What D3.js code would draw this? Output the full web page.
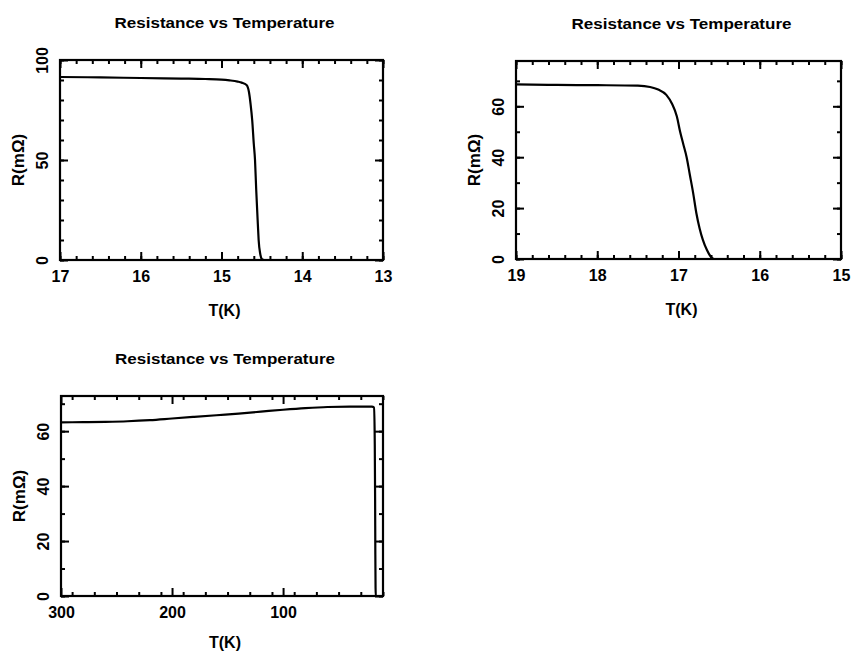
<!DOCTYPE html>
<html lang="en">
<head>
<meta charset="utf-8">
<script src="https://d3js.org/d3.v7.min.js"></script>
<style>
  body { margin: 0; background: #fff; }
  text { font-family: "Liberation Sans", Arial, sans-serif; font-weight: bold; fill: #000; }
</style>
</head>
<body>
<div id="my_dataviz"></div>
<script>
// data
var title = "Resistance vs Temperature";
var xLabel = "T(K)";
var yLabel = "R(mΩ)";

// panel 1: 17 K -> 13 K
var t1 = [17, 16.5, 16, 15.5, 15.2, 15, 14.9, 14.8, 14.75, 14.69, 14.66, 14.64, 14.62, 14.6, 14.585, 14.57, 14.55, 14.54, 14.52, 14.5, 14.47];
var r1 = [91.5, 91.3, 91, 90.7, 90.5, 90.2, 89.8, 89.2, 88.7, 87.5, 84, 78, 70, 58, 50, 35, 18, 10, 3, 0.5, 0];
var xTicks1 = [17, 16, 15, 14, 13];
var yTicks1 = [0, 50, 100];

// panel 2: 19 K -> 15 K
var t2 = [19, 18.5, 18, 17.5, 17.35, 17.25, 17.15, 17.08, 17.02, 16.98, 16.94, 16.9, 16.86, 16.82, 16.78, 16.74, 16.7, 16.65, 16.6, 16.56, 15];
var r2 = [68.6, 68.4, 68.3, 68.1, 67.6, 66.6, 64.5, 61, 56, 50, 45, 40, 33, 26, 18, 12, 7.5, 3.5, 0.8, 0, 0];
var xTicks2 = [19, 18, 17, 16, 15];
var yTicks2 = [0, 20, 40, 60];

// panel 3: 300 K -> 10 K
var t3 = [300, 280, 260, 240, 220, 200, 180, 160, 140, 120, 100, 80, 60, 40, 20, 18, 17.4, 17.1, 16.9, 16.7, 16.5, 12];
var r3 = [63.2, 63.3, 63.4, 63.6, 64, 64.6, 65.2, 65.8, 66.4, 67.1, 67.8, 68.4, 68.8, 68.9, 68.9, 68.6, 55, 35, 15, 3, 0, 0];
var xTicks3 = [300, 200, 100];
var yTicks3 = [0, 20, 40, 60];

var svg = d3.select("#my_dataviz")
  .append("svg")
  .attr("width", 854)
  .attr("height", 655)

function drawPanel(p) {
  var g = svg.append("g")
  var w = p.right - p.left, h = p.bottom - p.top

  var x = d3.scaleLinear().domain(p.xDomain).range([p.left, p.right])
  var y = d3.scaleLinear().domain(p.yDomain).range([p.bottom, p.top])

  // minor ticks on all four sides, pointing inward
  var minorX = d3.range(p.xDomain[1], p.xDomain[0] + 1e-9, p.xMinor)
  var minorY = d3.range(0, p.yDomain[1] + 1e-9, p.yMinor)

  g.append("g").attr("transform", "translate(0," + p.bottom + ")")
    .call(d3.axisBottom(x).tickValues(minorX).tickSize(-4).tickFormat(""))
  g.append("g").attr("transform", "translate(0," + p.top + ")")
    .call(d3.axisTop(x).tickValues(minorX).tickSize(-4).tickFormat(""))
  g.append("g").attr("transform", "translate(" + p.left + ",0)")
    .call(d3.axisLeft(y).tickValues(minorY).tickSize(-4).tickFormat(""))
  g.append("g").attr("transform", "translate(" + p.right + ",0)")
    .call(d3.axisRight(y).tickValues(minorY).tickSize(-4).tickFormat(""))

  // major ticks
  g.append("g").attr("transform", "translate(0," + p.bottom + ")")
    .call(d3.axisBottom(x).tickValues(p.xTicks).tickSize(-8).tickPadding(11).tickFormat(d3.format("d")))
    .selectAll("text").style("font-size", "16px")
  g.append("g").attr("transform", "translate(0," + p.top + ")")
    .call(d3.axisTop(x).tickValues(p.xTicks).tickSize(-8).tickFormat(""))
  g.append("g").attr("transform", "translate(" + p.left + ",0)")
    .call(d3.axisLeft(y).tickValues(p.yTicks).tickSize(-8).tickFormat(d3.format("d")))
    .selectAll("text")
      .attr("x", null).attr("dy", null)
      .attr("text-anchor", "middle")
      .attr("transform", "translate(-12,0) rotate(-90)")
      .style("font-size", "16px")
  g.append("g").attr("transform", "translate(" + p.right + ",0)")
    .call(d3.axisRight(y).tickValues(p.yTicks).tickSize(-8).tickFormat(""))

  g.selectAll(".domain").remove()
  g.selectAll(".tick line").attr("stroke", "#000").attr("stroke-width", 2)

  // frame
  g.append("rect")
    .attr("x", p.left).attr("y", p.top)
    .attr("width", w).attr("height", h)
    .attr("fill", "none").attr("stroke", "#000").attr("stroke-width", 2.2)

  // curve
  var line = d3.line()
    .x(function(d) { return x(d[0]) })
    .y(function(d) { return y(d[1]) })
    .curve(d3.curveMonotoneX)
  g.append("path")
    .datum(d3.zip(p.t, p.r))
    .attr("fill", "none")
    .attr("stroke", "#000")
    .attr("stroke-width", 2.2)
    .attr("stroke-linejoin", "round")
    .attr("d", line)

  // title and axis labels
  g.append("text")
    .attr("text-anchor", "middle")
    .attr("x", (p.left + p.right) / 2 + 3)
    .attr("y", p.top - 32)
    .attr("textLength", 220)
    .attr("lengthAdjust", "spacingAndGlyphs")
    .style("font-size", "15px")
    .text(title)
  g.append("text")
    .attr("text-anchor", "middle")
    .attr("x", (p.left + p.right) / 2 + 3)
    .attr("y", p.bottom + p.xLabelDy)
    .style("font-size", "16px")
    .text(xLabel)
  g.append("text")
    .attr("text-anchor", "middle")
    .attr("transform", "translate(" + (p.left + p.yLabelDx) + "," + (p.top + h / 2) + ") rotate(-90)")
    .style("font-size", "17px")
    .text(yLabel)
}

drawPanel({left: 60, right: 383, top: 60, bottom: 260, xDomain: [17, 13], yDomain: [0, 100],
  xTicks: xTicks1, yTicks: yTicks1, xMinor: 0.2, yMinor: 10, t: t1, r: r1, yLabelDx: -36, xLabelDy: 56})
drawPanel({left: 516, right: 841, top: 61, bottom: 259, xDomain: [19, 15], yDomain: [0, 77.8],
  xTicks: xTicks2, yTicks: yTicks2, xMinor: 0.2, yMinor: 10, t: t2, r: r2, yLabelDx: -36, xLabelDy: 56})
drawPanel({left: 61, right: 383, top: 396, bottom: 596, xDomain: [300, 10], yDomain: [0, 72.8],
  xTicks: xTicks3, yTicks: yTicks3, xMinor: 20, yMinor: 10, t: t3, r: r3, yLabelDx: -36, xLabelDy: 52})
</script>
</body>
</html>
